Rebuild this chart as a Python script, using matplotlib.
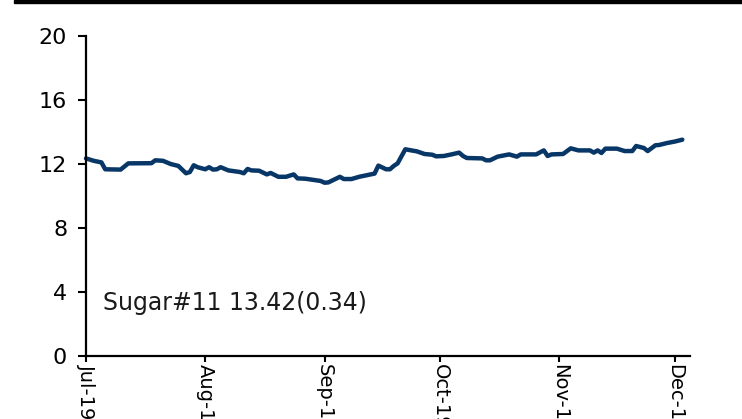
import matplotlib
matplotlib.use("Agg")
import matplotlib.pyplot as plt
import matplotlib.patches as mpatches
import pandas as pd

# ---- data ----
dates = [
    "2019-07-01", "2019-07-03", "2019-07-05", "2019-07-06", "2019-07-10", "2019-07-12",
    "2019-07-18", "2019-07-19", "2019-07-21", "2019-07-23", "2019-07-25", "2019-07-27",
    "2019-07-28", "2019-07-29", "2019-07-30", "2019-08-01", "2019-08-02", "2019-08-03",
    "2019-08-04", "2019-08-05", "2019-08-07", "2019-08-10", "2019-08-11", "2019-08-12",
    "2019-08-13", "2019-08-15", "2019-08-17", "2019-08-18", "2019-08-20", "2019-08-22",
    "2019-08-24", "2019-08-25", "2019-08-27", "2019-08-31", "2019-09-01", "2019-09-02",
    "2019-09-05", "2019-09-06", "2019-09-08", "2019-09-10", "2019-09-12", "2019-09-14",
    "2019-09-15", "2019-09-17", "2019-09-18", "2019-09-19", "2019-09-20", "2019-09-22",
    "2019-09-23", "2019-09-25", "2019-09-27", "2019-09-29", "2019-09-30", "2019-10-02",
    "2019-10-04", "2019-10-06", "2019-10-07", "2019-10-08", "2019-10-12", "2019-10-13",
    "2019-10-14", "2019-10-16", "2019-10-19", "2019-10-21", "2019-10-22", "2019-10-26",
    "2019-10-28", "2019-10-29", "2019-10-30", "2019-11-02", "2019-11-04", "2019-11-06",
    "2019-11-09", "2019-11-10", "2019-11-11", "2019-11-12", "2019-11-13", "2019-11-16",
    "2019-11-18", "2019-11-20", "2019-11-21", "2019-11-23", "2019-11-24", "2019-11-26",
    "2019-11-27", "2019-11-29", "2019-12-01", "2019-12-02", "2019-12-03",
]
prices = [
    12.35, 12.20, 12.10, 11.67, 11.65, 12.04,
    12.05, 12.23, 12.20, 12.00, 11.88, 11.42,
    11.50, 11.92, 11.80, 11.67, 11.80, 11.65,
    11.67, 11.80, 11.60, 11.50, 11.42, 11.69,
    11.60, 11.58, 11.35, 11.44, 11.20, 11.20,
    11.35, 11.10, 11.08, 10.94, 10.83, 10.85,
    11.20, 11.06, 11.06, 11.20, 11.30, 11.40,
    11.90, 11.67, 11.67, 11.88, 12.04, 12.92,
    12.875, 12.79, 12.625, 12.58, 12.48, 12.50,
    12.60, 12.71, 12.50, 12.375, 12.35, 12.23,
    12.23, 12.46, 12.60, 12.46, 12.60, 12.60,
    12.85, 12.50, 12.60, 12.625, 12.98, 12.85,
    12.85, 12.71, 12.85, 12.69, 12.96, 12.96,
    12.81, 12.81, 13.125, 13.00, 12.81, 13.17,
    13.19, 13.31, 13.40, 13.46, 13.52,
]
tick_dates = ["2019-07-01", "2019-08-01", "2019-09-01", "2019-10-01", "2019-11-01", "2019-12-01"]
tick_labels = ["Jul-19", "Aug-19", "Sep-19", "Oct-19", "Nov-19", "Dec-19"]
y_ticks = [0, 4, 8, 12, 16, 20]
annotation = "Sugar#11 13.42(0.34)"

x = pd.to_datetime(dates)
xt = pd.to_datetime(tick_dates)

W, H = 742, 419
fig = plt.figure(figsize=(W / 100, H / 100), dpi=100)
fig.patch.set_facecolor("white")

# thin black bar at the top
fig.patches.append(mpatches.Rectangle((14 / W, 1 - 3.5 / H), 1, 3.5 / H,
                                      transform=fig.transFigure, color="black",
                                      zorder=0))

ax = fig.add_axes([86 / W, 63 / H, 604 / W, 320 / H])
ax.plot(x, prices, color="#083767", linewidth=3.2, solid_joinstyle="round",
        solid_capstyle="round", clip_on=False)

ax.set_ylim(0, 20)
ax.set_yticks(y_ticks)
ax.set_xlim(pd.Timestamp("2019-07-01"), pd.Timestamp("2019-12-05"))
ax.set_xticks(xt)
ax.set_xticklabels(tick_labels, rotation=270, ha="center", va="top")

for s in ("top", "right"):
    ax.spines[s].set_visible(False)
for s in ("left", "bottom"):
    ax.spines[s].set_linewidth(1.6)
    ax.spines[s].set_color("black")

ax.tick_params(axis="y", direction="out", length=5.5, width=1.5, pad=8,
               labelsize=16, colors="black")
ax.tick_params(axis="x", direction="out", length=4.5, width=1.5, pad=1,
               labelsize=14, colors="black")

ax.text(0.028, 0.144, annotation, transform=ax.transAxes, fontsize=17,
        color="#1a1a1a", ha="left", va="baseline")

fig.savefig("out.png", dpi=100, facecolor="white")
